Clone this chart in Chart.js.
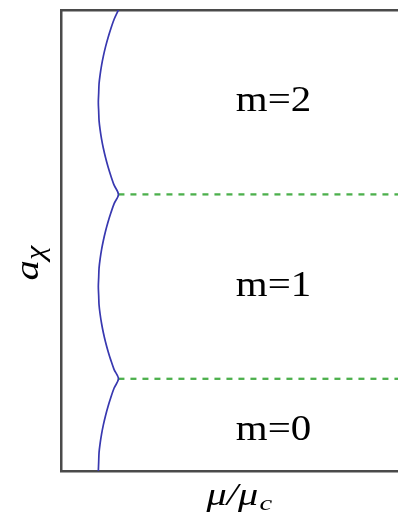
<!DOCTYPE html>
<html>
<head>
<meta charset="utf-8">
<script src="https://cdn.jsdelivr.net/npm/chart.js@4/dist/chart.umd.min.js"></script>
<style>
  html, body { margin: 0; padding: 0; background: #fff; overflow: hidden; }
  #wrap { width: 398px; height: 516px; overflow: hidden; }
  canvas { display: block; }
</style>
</head>
<body>
<div id="wrap"><canvas id="bands" width="430" height="516"></canvas></div>
<script>
// a_chi along the boundary curve, bottom to top
const aChi = [
  0.00, 0.05, 0.10, 0.15, 0.20, 0.25, 0.30, 0.35, 0.40, 0.45,
  0.50, 0.55, 0.60, 0.65, 0.70, 0.75, 0.80, 0.85, 0.90, 0.95,
  1.00, 1.05, 1.10, 1.15, 1.20, 1.25, 1.30, 1.35, 1.40, 1.45,
  1.50, 1.55, 1.60, 1.65, 1.70, 1.75, 1.80, 1.85, 1.90, 1.95,
  2.00, 2.05, 2.10, 2.15, 2.20, 2.25, 2.30, 2.35, 2.40, 2.45,
  2.50,
]
// mu / mu_c at each a_chi
const muCurve = [
  0.104, 0.105, 0.106, 0.109, 0.113, 0.118, 0.124, 0.131, 0.139, 0.148,
  0.160, 0.148, 0.139, 0.131, 0.124, 0.118, 0.113, 0.109, 0.106, 0.105,
  0.104, 0.105, 0.106, 0.109, 0.113, 0.118, 0.124, 0.131, 0.139, 0.148,
  0.160, 0.148, 0.139, 0.131, 0.124, 0.118, 0.113, 0.109, 0.106, 0.105,
  0.104, 0.105, 0.106, 0.109, 0.113, 0.118, 0.124, 0.131, 0.139, 0.148,
  0.160,
]
// phase boundaries between winding numbers
const boundaryA = [0.5, 1.5]
const boundaryMu = [0.160, 1.0]

// region labels
const bandNames = ['m=0', 'm=1', 'm=2']
const bandA = [0.22, 1.0, 2.0]
const bandMu = 0.592

const datasets = [
  {
    data: aChi.map((a, i) => ({ x: muCurve[i], y: a })),
    borderColor: '#3838b0',
    borderWidth: 1.7,
    pointRadius: 0,
    tension: 0.3,
  },
]
boundaryA.forEach(a => {
  datasets.push({
    data: boundaryMu.map(m => ({ x: m, y: a })),
    borderColor: '#4cb04c',
    borderWidth: 2.3,
    borderDash: [6, 6],
    pointRadius: 0,
  })
})

// stretched serif text, as in the original figure
function wideText(ctx, text, x, y, sx) {
  ctx.save()
  ctx.translate(x, y)
  ctx.scale(sx, 1)
  ctx.fillText(text, 0, 0)
  ctx.restore()
}

const labelPlugin = {
  id: 'labels',
  afterDraw(chart) {
    const { ctx, chartArea, scales } = chart
    ctx.save()
    ctx.fillStyle = '#000'
    ctx.textBaseline = 'middle'
    ctx.textAlign = 'center'
    ctx.font = '35px "Liberation Serif"'
    bandNames.forEach((name, i) => {
      wideText(ctx, name, scales.x.getPixelForValue(bandMu), scales.y.getPixelForValue(bandA[i]), 1.17)
    })

    // x title: mu/mu_c
    ctx.textBaseline = 'alphabetic'
    ctx.textAlign = 'left'
    const cx = (chartArea.left + chartArea.right) / 2
    ctx.save()
    ctx.translate(cx - 34, 505)
    ctx.scale(1.3, 1)
    ctx.font = 'italic 31px "Liberation Serif"'
    const main = 'μ/μ'
    ctx.fillText(main, 0, 0)
    const w = ctx.measureText(main).width
    ctx.font = 'italic 22px "Liberation Serif"'
    ctx.fillText('c', w + 1, 5)
    ctx.restore()

    // y title: a_chi
    ctx.save()
    ctx.translate(38, 266)
    ctx.rotate(-Math.PI / 2)
    ctx.scale(1.2, 1)
    ctx.font = 'italic 34px "Liberation Serif"'
    ctx.fillText('a', -12, 0)
    const wa = ctx.measureText('a').width
    ctx.font = 'italic 27px "Liberation Serif"'
    ctx.fillText('χ', -12 + wa, 6)
    ctx.restore()
    ctx.restore()
  },
}

const edge = { display: true, color: '#4a4a4a', width: 2.5 }
const hidden = { display: false }

new Chart(document.getElementById('bands'), {
  type: 'line',
  data: { datasets },
  options: {
    responsive: false,
    animation: false,
    layout: { padding: { left: 61, top: 10, right: 10, bottom: 45 } },
    plugins: { legend: hidden, tooltip: { enabled: false } },
    scales: {
      x: {
        type: 'linear', min: 0, max: 1,
        ticks: hidden, grid: { display: false, drawTicks: false }, border: edge,
      },
      xTop: {
        type: 'linear', position: 'top', min: 0, max: 1,
        ticks: hidden, grid: { display: false, drawTicks: false }, border: edge,
      },
      y: {
        type: 'linear', min: 0, max: 2.5,
        ticks: hidden, grid: { display: false, drawTicks: false }, border: edge,
      },
    },
  },
  plugins: [labelPlugin],
})
</script>
</body>
</html>
